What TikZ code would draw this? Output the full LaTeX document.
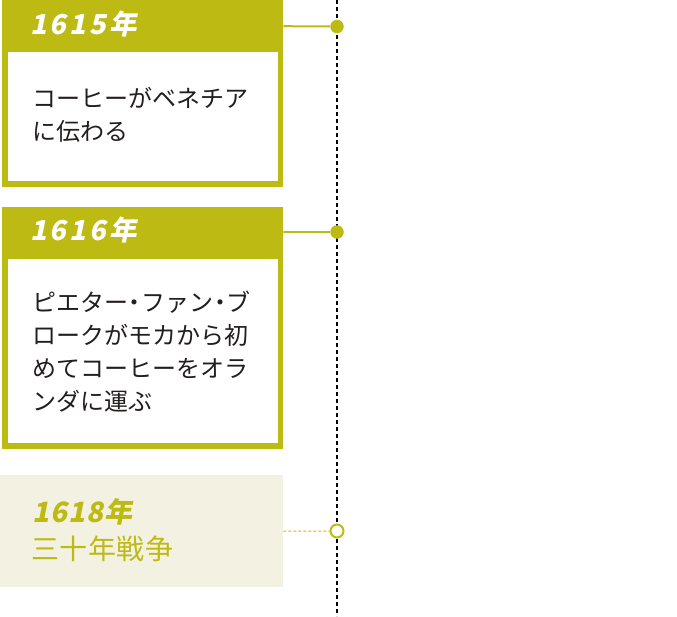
\documentclass[tikz,border=0pt]{standalone}
\usepackage{fontspec}
\usepackage{tikz}
\usetikzlibrary{positioning}
\newfontfamily\bodyfont{Noto Sans CJK JP}
\newfontfamily\yearfont{Noto Sans CJK JP}[LetterSpace=11, FakeSlant=0.2]
\newfontfamily\latefont{Noto Sans CJK JP}[LetterSpace=4, FakeSlant=0.2]
\newfontfamily\warfont{Noto Sans CJK JP}[LetterSpace=2]
\newcommand\halfdot{\makebox[0.55em]{・}}
\definecolor{eraolive}{RGB}{190,186,20}
\definecolor{erabeige}{RGB}{243,241,225}
\definecolor{inkgray}{RGB}{35,30,30}
\tikzset{
  card/.style={fill=eraolive, minimum width=281pt, inner sep=0pt},
  cardbody/.style={fill=white, minimum width=270pt, inner sep=0pt},
  quietcard/.style={fill=erabeige, minimum width=283pt, minimum height=112pt, inner sep=0pt},
  yearhead/.style={minimum width=281pt, minimum height=52pt, text width=225pt, align=left, inner sep=0pt, text height=16pt, text depth=0pt, text=white, font=\yearfont\bfseries\fontsize{27.5}{27.5}\selectfont},
  eventtext/.style={inner sep=0pt, align=left, text=inkgray, font=\bodyfont\fontsize{24}{32.8}\selectfont},
  eventdot/.style={circle, fill=eraolive, minimum size=13.5pt, inner sep=0pt},
  opendot/.style={circle, draw=eraolive, line width=2pt, fill=white, minimum size=13pt, inner sep=0pt},
  link/.style={draw=eraolive, line width=2pt},
  axis/.style={line width=2pt, dash pattern=on 4pt off 3pt}
}
\begin{document}
\begin{tikzpicture}[x=1pt, y=-1pt]
  \useasboundingbox (0,0) rectangle (677,616);
  \coordinate (axtop) at (337,0);
  \coordinate (axbot) at (337,616);
  \draw[axis] (axtop) -- (axbot);

  \node[card, minimum height=187pt, anchor=north west] (c1) at (2,0) {};
  \node[cardbody, minimum height=129pt, anchor=north west] (b1) at (7.5,52) {};
  \node[yearhead, anchor=north west] (h1) at (2,0) {1615年};
  \node[eventtext, anchor=north west] (t1) at (32,87) {コーヒーがベネチア\\に伝わる};
  \node[eventdot] (d1) at (337,26.5) {};
  \draw[link] (h1.east) -- (d1);

  \node[card, minimum height=242pt, anchor=north west] (c2) at (2,207) {};
  \node[cardbody, minimum height=184pt, anchor=north west] (b2) at (7.5,259) {};
  \node[yearhead, anchor=north west] (h2) at (2,206) {1616年};
  \node[eventtext, anchor=north west] (t2) at (32,291) {ピエター\halfdot ファン\halfdot ブ\\ロークがモカから初\\めてコーヒーをオラ\\ンダに運ぶ};
  \node[eventdot] (d2) at (337,232) {};
  \draw[link] (h2.east) -- (d2);

  \node[quietcard, anchor=north west] (c3) at (0,475) {};
  \node[inner sep=0pt, anchor=north west, text=eraolive, font=\latefont\bfseries\fontsize{28}{28}\selectfont] (y3) at (32,498) {1618年};
  \node[inner sep=0pt, anchor=north west, text=eraolive, font=\warfont\fontsize{28}{28}\selectfont] (w3) at (31,536) {三十年戦争};
  \node[opendot] (d3) at (337,531) {};
  \draw[link, line width=1pt, dash pattern=on 3pt off 2pt] (c3.east) -- (d3);
\end{tikzpicture}
\end{document}
